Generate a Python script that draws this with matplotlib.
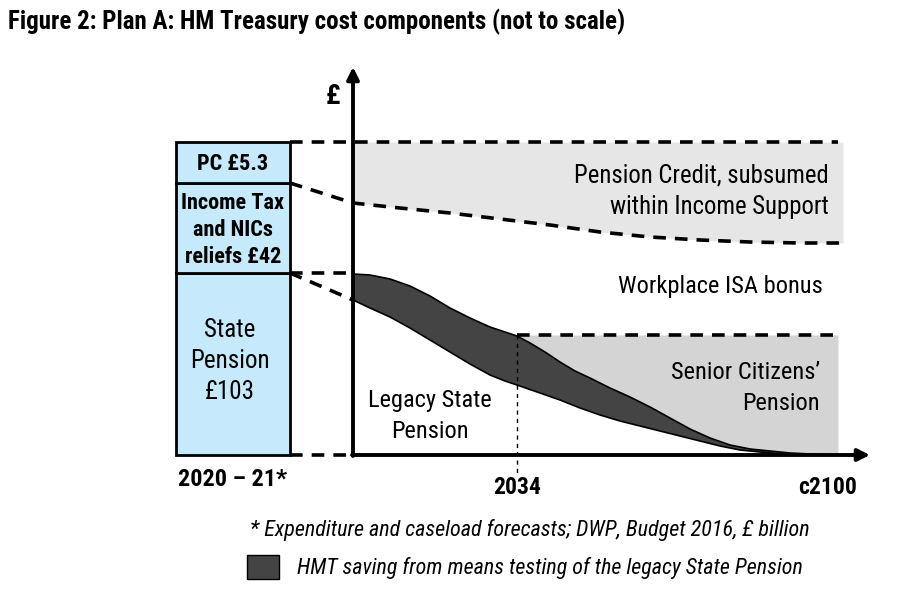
import matplotlib
matplotlib.use("Agg")
import matplotlib.pyplot as plt
from matplotlib.patches import Rectangle

plt.rcParams['font.family'] = ['Roboto Condensed', 'DejaVu Sans']

# ---- schematic values (height above the time axis, not to scale) ----
bar_labels = ["State\nPension\n£103", "Income Tax\nand NICs\nreliefs £42", "PC £5.3"]
bar_heights = [182, 90, 41]
bar_bold = [False, True, True]

# Pension Credit floor (dashed curve)
pc_x = [290, 353, 400, 450, 500, 550, 600, 650, 700, 750, 800, 843]
pc_y = [272, 252, 247, 242, 236, 230, 223, 218, 215, 213, 212, 212]

# legacy State Pension before means testing (top of dark band)
top_x = [353, 370, 390, 410, 430, 450, 470, 490, 505, 517, 530, 545, 560, 575, 590,
         610, 630, 650, 670, 690, 710, 730, 750, 770, 790, 810, 830, 838]
top_y = [181, 180, 176, 169, 159, 147, 137, 128, 123, 119, 112, 103, 93, 84, 77,
         67, 58, 48, 37, 26, 17, 10, 6, 4, 2, 1, 0, 0]
# legacy State Pension after means testing (bottom of dark band)
bot_x = [353, 370, 390, 410, 430, 450, 470, 490, 505, 517, 540, 560, 580, 600, 620,
         640, 660, 680, 700, 720, 740, 760, 780, 800, 830, 838]
bot_y = [155, 147, 138, 127, 115, 103, 91, 80, 74, 70, 62, 55, 47, 40, 34,
         29, 24, 19, 14, 9, 5, 3, 1, 0, 0, 0]

scp_level = 120      # Senior Citizens' Pension level
pc_top = 313         # top of Pension Credit band
x_origin, x_2034, x_end, x_arrow = 353, 517, 838, 870

fig = plt.figure(figsize=(9.23, 6.06), dpi=100)
ax = fig.add_axes([0, 0, 1, 1])
ax.set_xlim(0, 923)
ax.set_ylim(-151, 455)
ax.axis('off')

# ---- left stacked bar (2020-21) ----
bx0, bx1 = 176, 290
base = 0
for lab, h, b in zip(bar_labels, bar_heights, bar_bold):
    ax.add_patch(Rectangle((bx0, base), bx1 - bx0, h, facecolor='#c6e9fb',
                           edgecolor='black', lw=2, zorder=3))
    ax.text((bx0 + bx1) / 2 + (0 if b else -3), base + h / 2 - (2 if b else -3), lab,
            ha='center', va='center',
            fontsize=18 if not b else 16, fontweight='bold' if b else 'normal',
            linespacing=1.3 if b else 1.36, zorder=4)
    base += h

# ---- shaded bands ----
ax.fill_between(pc_x[1:], pc_y[1:], pc_top, color='#e6e6e6', lw=0, zorder=1)
sx = [x for x in top_x if x >= x_2034]
sy = [y for x, y in zip(top_x, top_y) if x >= x_2034]
ax.fill_between(sx, sy, scp_level, color='#d4d4d4', lw=0, zorder=1)

# dark band: saving from means testing
poly_x = top_x + bot_x[::-1]
poly_y = top_y + bot_y[::-1]
ax.fill(poly_x, poly_y, facecolor='#444444', edgecolor='black', lw=1.2, zorder=2)

# ---- dashed guide lines ----
dash = dict(color='black', lw=2.6, ls=(0, (3.5, 2.5)), zorder=2)
ax.plot([bx1, x_end], [pc_top, pc_top], **dash)
ax.plot(pc_x, pc_y, **dash)
ax.plot([bx1, x_origin], [sum(bar_heights[:1]), sum(bar_heights[:1])], **dash)
ax.plot([bx1, x_origin], [sum(bar_heights[:1]), bot_y[0]], **dash)
ax.plot([bx1, x_origin], [0, 0], **dash)
ax.plot([x_2034, x_end], [scp_level, scp_level], **dash)
ax.plot([x_2034, x_2034], [scp_level, -20], color='black', lw=1, ls=(0, (3, 3)), zorder=2)

# ---- axes arrows ----
ax.annotate('', xy=(x_origin, 388), xytext=(x_origin, -1),
            arrowprops=dict(arrowstyle='-|>', lw=2.8, color='black',
                            mutation_scale=18, shrinkA=0, shrinkB=0), zorder=5)
ax.annotate('', xy=(x_arrow, 0), xytext=(x_origin - 1, 0),
            arrowprops=dict(arrowstyle='-|>', lw=2.8, color='black',
                            mutation_scale=18, shrinkA=0, shrinkB=0), zorder=5)
ax.text(333, 358, '£', fontsize=20, fontweight='bold', ha='center', va='center')

# ---- axis labels ----
ax.text(233, -24, '2020 – 21*', fontsize=17.5, fontweight='bold', ha='center', va='center')
ax.text(x_2034, -32, '2034', fontsize=17, fontweight='bold', ha='center', va='center')
ax.text(828, -32, 'c2100', fontsize=17, fontweight='bold', ha='center', va='center')

# ---- region labels ----
ax.text(829, 264, 'Pension Credit, subsumed\nwithin Income Support', fontsize=17.8,
        ha='right', va='center', linespacing=1.42)
ax.text(823, 168, 'Workplace ISA bonus', fontsize=17.6, ha='right', va='center')
ax.text(820, 67, "Senior Citizens’\nPension", fontsize=17.6, ha='right', va='center',
        linespacing=1.42)
ax.text(430, 39, 'Legacy State\nPension', fontsize=17.6, ha='center', va='center',
        linespacing=1.42)

# ---- title and notes ----
fig.text(8 / 923, 1 - 22 / 606, 'Figure 2: Plan A: HM Treasury cost components (not to scale)',
         fontsize=18, fontweight='bold', ha='left', va='center')
ax.text(250, -75, '* Expenditure and caseload forecasts; DWP, Budget 2016, £ billion',
        fontsize=15.9, style='italic', ha='left', va='center')
ax.add_patch(Rectangle((247, -124), 32, 24, facecolor='#444444', edgecolor='black', lw=1))
ax.text(297, -113, 'HMT saving from means testing of the legacy State Pension',
        fontsize=15.8, style='italic', ha='left', va='center')

fig.savefig('out.png', dpi=100)
